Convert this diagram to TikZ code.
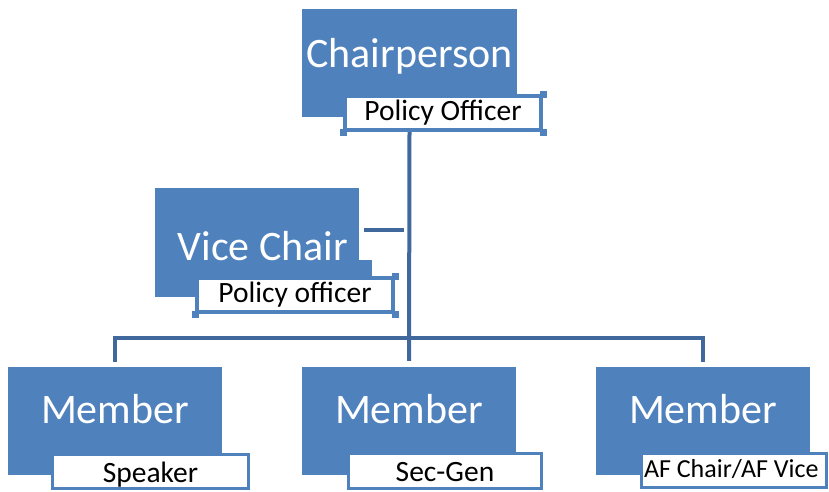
\documentclass[tikz,border=0pt]{standalone}
\usepackage{fontspec}
\setmainfont{Carlito}
\definecolor{boxblue}{HTML}{4F81BD}
\definecolor{linkblue}{HTML}{41689C}

\tikzset{
  rolebox/.style = {fill = boxblue, text = white, inner sep = 0pt,
    minimum width = 214pt, minimum height = 108pt,
    font = \fontsize{42}{46}\selectfont, text height = 26pt, text depth = 22pt},
  dutybox/.style = {fill = white, draw = boxblue, line width = 3pt, inner sep = 0pt,
    minimum width = 196pt, minimum height = 34pt,
    font = \fontsize{29.5}{33}\selectfont, text height = 22pt, text depth = 1pt},
  link/.style = {draw = linkblue, line width = 4pt}
}

\begin{document}
\begin{tikzpicture}[x = 1pt, y = -1pt]
\useasboundingbox (0, 0) rectangle (829, 491);

% top
\node[rolebox, minimum width = 215pt, text height = 28pt, text depth = 20pt] (chair) at (409.5, 63) {Chairperson};
\node[dutybox, line width = 4pt, text height = 20pt, text depth = 6pt] (chairpol) at (443, 113) {Policy Officer};
\foreach \c in {north east, south east, south west}
  \fill[boxblue] ([shift = {(-3.5, -3.5)}]chairpol.\c) rectangle ++(7, 7);

% vice
\node[rolebox, minimum width = 204pt, minimum height = 109pt, text height = 40pt, text depth = 5pt] (vice) at (257, 242.5) {\hspace{12pt}Vice Chair};
\fill[boxblue] (vice.east |- 0, 260) rectangle (372, 277);
\node[dutybox, line width = 4pt, text height = 20pt, text depth = 6pt] (vicepol) at (295, 295) {Policy officer};
\foreach \c in {north east, south east, south west}
  \fill[boxblue] ([shift = {(-3.5, -3.5)}]vicepol.\c) rectangle ++(7, 7);

% members
\node[rolebox] (leftmem) at (115, 421) {Member};
\node[dutybox] (speaker) at (150.5, 471.5) {Speaker};
\node[rolebox] (midmem) at (409, 421) {Member};
\node[dutybox, minimum width = 193pt, minimum height = 35pt] (secgen) at (445, 471) {Sec-Gen};
\node[rolebox] (rightmem) at (703, 421) {Member};
\node[dutybox, minimum width = 185pt, font = \fontsize{26}{30}\selectfont,
  text height = 19pt, text depth = 6pt] (afchair) at (734, 470.5)
  {\makebox[182pt][l]{\hspace{1pt}AF Chair/AF Vice}};

% connectors
\coordinate (bar) at (0, 338);
\coordinate (stub) at (0, 230);
\draw[link, shorten > = 6pt] (chair.south |- chairpol.south) -- (midmem.north);
\draw[link, shorten < = 5pt, shorten > = 5pt] (leftmem.north) |- (bar -| rightmem.north) -- (rightmem.north);
\draw[link, shorten < = 5pt, shorten > = 6pt] (vice.east |- stub) -- (chair.south |- stub);
\end{tikzpicture}
\end{document}
